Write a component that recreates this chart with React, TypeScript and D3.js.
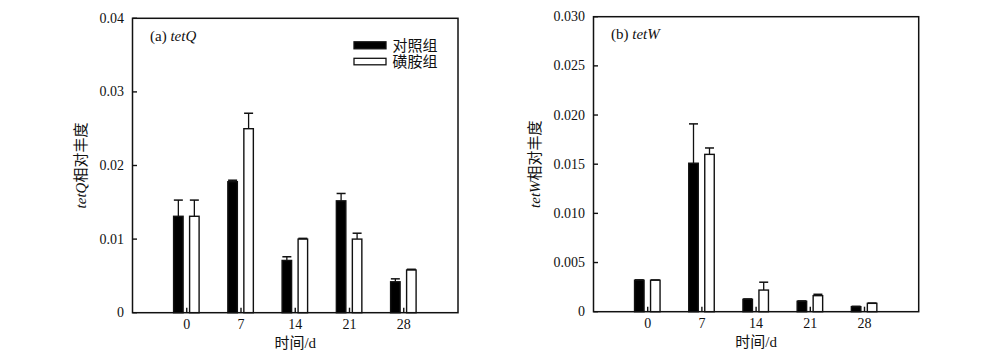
import React from "react";
import * as d3 from "d3";

const days = [0, 7, 14, 21, 28];

const tetQControl = [0.0131, 0.0178, 0.0071, 0.0152, 0.0042];
const tetQControlErr = [0.0022, 0.0002, 0.0005, 0.001, 0.0004];
const tetQSulfa = [0.0131, 0.025, 0.01, 0.01, 0.0058];
const tetQSulfaErr = [0.0022, 0.0021, 0.0001, 0.0008, 0.0001];
const tetQTicks = [0, 0.01, 0.02, 0.03, 0.04];
const tetQTickLabels = ["0", "0.01", "0.02", "0.03", "0.04"];

const tetWControl = [0.0032, 0.0151, 0.00126, 0.00106, 0.00051];
const tetWControlErr = [0.00004, 0.004, 0.00004, 0.00004, 0.00004];
const tetWSulfa = [0.0032, 0.016, 0.0022, 0.00163, 0.00085];
const tetWSulfaErr = [0.00003, 0.00065, 0.0008, 0.00014, 0.00003];
const tetWTicks = [0, 0.005, 0.01, 0.015, 0.02, 0.025, 0.03];
const tetWTickLabels = ["0", "0.005", "0.010", "0.015", "0.020", "0.025", "0.030"];

const legendLabels = ["对照组", "磺胺组"];
const xTitle = "时间/d";

const FONT = "'Liberation Serif', 'Times New Roman', 'Noto Sans CJK SC', serif";

type PanelProps = {
  left: number;
  right: number;
  top: number;
  bottom: number;
  yMax: number;
  ticks: number[];
  tickLabels: string[];
  control: number[];
  controlErr: number[];
  sulfa: number[];
  sulfaErr: number[];
  letter: string;
  gene: string;
  titleX: number;
  legend: boolean;
};

function Panel(p: PanelProps) {
  const x = d3.scaleLinear().domain([-7, 35]).range([p.left, p.right]);
  const y = d3.scaleLinear().domain([0, p.yMax]).range([p.bottom, p.top]);
  const bw = 9.5;
  const capW = 9;
  const stroke = "#111";
  const midY = (p.top + p.bottom) / 2;
  const midX = (p.left + p.right) / 2;

  const bars = (vals: number[], errs: number[], offset: number, fill: string) =>
    vals.map((v, i) => {
      const cx = x(days[i]) + offset;
      const top = y(v);
      const etop = y(v + errs[i]);
      return (
        <g key={i}>
          <line x1={cx} x2={cx} y1={top} y2={etop} stroke={stroke} strokeWidth={1.3} />
          <line x1={cx - capW / 2} x2={cx + capW / 2} y1={etop} y2={etop} stroke={stroke} strokeWidth={1.5} />
          <rect
            x={cx - bw / 2}
            y={top}
            width={bw}
            height={p.bottom - top}
            fill={fill}
            stroke={stroke}
            strokeWidth={1.4}
          />
        </g>
      );
    });

  return (
    <g fontFamily={FONT} fill="#111">
      {bars(p.control, p.controlErr, -8.4, "#000")}
      {bars(p.sulfa, p.sulfaErr, 7.6, "#fff")}
      <rect
        x={p.left}
        y={p.top}
        width={p.right - p.left}
        height={p.bottom - p.top}
        fill="none"
        stroke={stroke}
        strokeWidth={1.5}
      />
      {p.ticks.map((t, i) => (
        <g key={"y" + i}>
          <line x1={p.left} x2={p.left + 4.5} y1={y(t)} y2={y(t)} stroke={stroke} strokeWidth={1.4} />
          <text x={p.left - 8.5} y={y(t)} textAnchor="end" dominantBaseline="central" fontSize={14}>
            {p.tickLabels[i]}
          </text>
        </g>
      ))}
      {days.map((d, i) => (
        <g key={"x" + i}>
          <line x1={x(d)} x2={x(d)} y1={p.bottom} y2={p.bottom - 5} stroke={stroke} strokeWidth={1.4} />
          <text x={x(d)} y={p.bottom + 16.5} textAnchor="middle" fontSize={14}>
            {String(d)}
          </text>
        </g>
      ))}
      <text x={midX} y={p.bottom + 35.5} textAnchor="middle" fontSize={15}>
        {xTitle}
      </text>
      <text
        transform={`translate(${p.titleX},${midY}) rotate(-90)`}
        textAnchor="middle"
        dominantBaseline="central"
        fontSize={15}
      >
        <tspan fontStyle="italic">{p.gene}</tspan>
        <tspan>相对丰度</tspan>
      </text>
      <text x={p.left + 17.5} y={p.top + 22.5} fontSize={15}>
        {`(${p.letter}) `}
        <tspan fontStyle="italic">{p.gene}</tspan>
      </text>
      {p.legend && (
        <g>
          <rect x={p.left + 221.5} y={p.top + 23.5} width={32} height={7} fill="#000" stroke={stroke} strokeWidth={1.3} />
          <rect x={p.left + 221.5} y={p.top + 40} width={32} height={6.5} fill="#fff" stroke={stroke} strokeWidth={1.3} />
          <text x={p.left + 260} y={p.top + 27.5} dominantBaseline="central" fontSize={15}>
            {legendLabels[0]}
          </text>
          <text x={p.left + 260} y={p.top + 43.5} dominantBaseline="central" fontSize={15}>
            {legendLabels[1]}
          </text>
        </g>
      )}
    </g>
  );
}

export default function App() {
  return (
    <svg
      width={993}
      height={361}
      style={{ position: "absolute", left: 0, top: 0, background: "#fff" }}
    >
      <rect width={993} height={361} fill="#fff" />
      <Panel
        left={132.5}
        right={458}
        top={18.3}
        bottom={312.7}
        yMax={0.04}
        ticks={tetQTicks}
        tickLabels={tetQTickLabels}
        control={tetQControl}
        controlErr={tetQControlErr}
        sulfa={tetQSulfa}
        sulfaErr={tetQSulfaErr}
        letter="a"
        gene="tetQ"
        titleX={81}
        legend={true}
      />
      <Panel
        left={593.5}
        right={918.7}
        top={16.7}
        bottom={311.7}
        yMax={0.03}
        ticks={tetWTicks}
        tickLabels={tetWTickLabels}
        control={tetWControl}
        controlErr={tetWControlErr}
        sulfa={tetWSulfa}
        sulfaErr={tetWSulfaErr}
        letter="b"
        gene="tetW"
        titleX={535}
        legend={false}
      />
    </svg>
  );
}
